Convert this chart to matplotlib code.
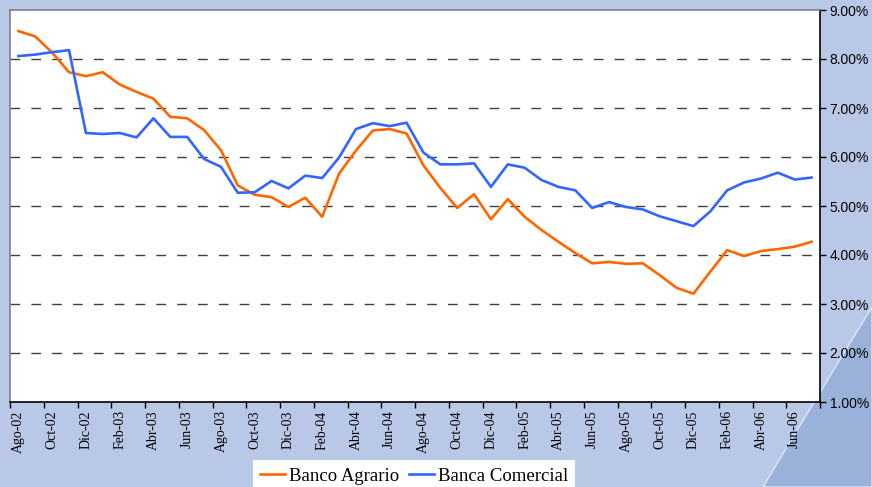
import matplotlib
matplotlib.use("Agg")
import matplotlib.pyplot as plt
from matplotlib.patches import PathPatch
from matplotlib.path import Path
from matplotlib.ticker import FixedLocator, FuncFormatter

months = ["Ago-02", "Sep-02", "Oct-02", "Nov-02", "Dic-02", "Ene-03", "Feb-03", "Mar-03",
          "Abr-03", "May-03", "Jun-03", "Jul-03", "Ago-03", "Sep-03", "Oct-03", "Nov-03",
          "Dic-03", "Ene-04", "Feb-04", "Mar-04", "Abr-04", "May-04", "Jun-04", "Jul-04",
          "Ago-04", "Sep-04", "Oct-04", "Nov-04", "Dic-04", "Ene-05", "Feb-05", "Mar-05",
          "Abr-05", "May-05", "Jun-05", "Jul-05", "Ago-05", "Sep-05", "Oct-05", "Nov-05",
          "Dic-05", "Ene-06", "Feb-06", "Mar-06", "Abr-06", "May-06", "Jun-06", "Jul-06"]

banco_agrario = [8.57, 8.46, 8.13, 7.73, 7.65, 7.73, 7.48, 7.33, 7.19, 6.82, 6.79, 6.55,
                 6.14, 5.42, 5.23, 5.18, 4.98, 5.17, 4.78, 5.66, 6.13, 6.54, 6.57, 6.48,
                 5.83, 5.37, 4.96, 5.24, 4.73, 5.14, 4.78, 4.51, 4.27, 4.04, 3.83, 3.86,
                 3.82, 3.83, 3.59, 3.33, 3.21, 3.66, 4.10, 3.98, 4.08, 4.12, 4.17, 4.27]

banca_comercial = [8.06, 8.09, 8.14, 8.18, 6.49, 6.47, 6.49, 6.40, 6.79, 6.41, 6.41, 5.96,
                   5.80, 5.27, 5.28, 5.51, 5.36, 5.62, 5.57, 5.99, 6.57, 6.69, 6.63, 6.70,
                   6.09, 5.85, 5.85, 5.87, 5.39, 5.85, 5.78, 5.53, 5.39, 5.32, 4.96, 5.08,
                   4.98, 4.93, 4.79, 4.69, 4.59, 4.89, 5.32, 5.48, 5.56, 5.68, 5.54, 5.58]

y_ticks = [1, 2, 3, 4, 5, 6, 7, 8, 9]

W, H = 872, 487
fig = plt.figure(figsize=(W / 100, H / 100), dpi=100)
fig.patch.set_facecolor("#B8C8E6")

# decorative darker swoosh in the lower-right corner (behind everything)
verts = [(1.0, 1 - 307 / H), (812 / W, 1 - 405 / H), (763 / W, 0.0), (1.0, 0.0), (1.0, 1 - 307 / H)]
codes = [Path.MOVETO, Path.CURVE3, Path.CURVE3, Path.LINETO, Path.CLOSEPOLY]
swoosh = PathPatch(Path(verts, codes), transform=fig.transFigure,
                   facecolor="#9AB2DA", edgecolor="#DCE6F5", lw=1.0, zorder=-5)
fig.patches.append(swoosh)

left, right, top, bottom = 10, 820, 10, 402
ax = fig.add_axes([left / W, 1 - bottom / H, (right - left) / W, (bottom - top) / H])
ax.set_zorder(1)
ax.set_facecolor("white")

x = list(range(len(months)))
ax.plot(x, banco_agrario, color="#FF6600", lw=1.9, label="Banco Agrario", zorder=3)
ax.plot(x, banca_comercial, color="#3366FF", lw=1.9, label="Banca Comercial", zorder=3)

ax.set_xlim(-0.5, len(months) - 0.5)
ax.set_ylim(1, 9)

# y axis on the right
ax.yaxis.tick_right()
ax.set_yticks(y_ticks)
ax.yaxis.set_major_formatter(FuncFormatter(lambda v, p: f"{v:.2f}%"))
ax.tick_params(axis="y", direction="out", length=4, width=1, color="black",
               labelsize=10, pad=3)
for lab in ax.get_yticklabels():
    lab.set_fontfamily("Liberation Sans")

# gridlines
for yv in y_ticks[1:-1]:
    ax.axhline(yv, color="#404040", lw=1.0, ls=(0, (7, 8)), zorder=1)

# x ticks at category boundaries, labels at category centres
ax.xaxis.set_major_locator(FixedLocator([i - 0.5 for i in range(0, len(months) + 1, 2)]))
ax.xaxis.set_major_formatter(FuncFormatter(lambda v, p: ""))
ax.tick_params(axis="x", which="major", direction="out", length=4, width=1, color="black")
ax.xaxis.set_minor_locator(FixedLocator(list(range(0, len(months), 2))))
ax.set_xticklabels([months[i] for i in range(0, len(months), 2)], minor=True)
ax.tick_params(axis="x", which="minor", length=0, labelsize=10, pad=6)
for lab in ax.get_xticklabels(minor=True):
    lab.set_rotation(90)
    lab.set_fontfamily("Liberation Serif")
    lab.set_va("top")
    lab.set_ha("center")

for side in ["top", "left"]:
    ax.spines[side].set_color("#808080")
    ax.spines[side].set_linewidth(1.2)
for side in ["bottom", "right"]:
    ax.spines[side].set_color("black")
    ax.spines[side].set_linewidth(1.2)

leg = fig.legend(loc="lower center", bbox_to_anchor=(414 / W, -0.03), ncol=2,
                 frameon=True, fancybox=False, handlelength=1.35, handletextpad=0.2,
                 columnspacing=0.5, borderpad=0.4,
                 prop={"family": "Liberation Serif", "size": 13.5})
leg.get_frame().set_facecolor("white")
leg.get_frame().set_edgecolor("white")
leg.get_frame().set_linewidth(0)
leg.get_frame().set_alpha(1)

fig.savefig("out.png", dpi=100, facecolor=fig.get_facecolor())
